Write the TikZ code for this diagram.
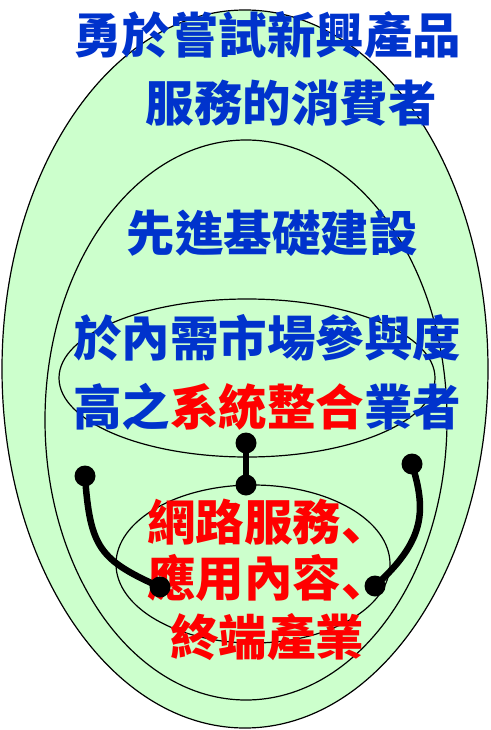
\documentclass[tikz,border=0pt]{standalone}
\usepackage{fontspec}
\newfontfamily\cjk{Noto Sans CJK TC}
\newfontfamily\cjksc{Noto Sans CJK SC}
\newcommand{\dunhao}{{\cjksc\bfseries 、}}
\definecolor{bgreen}{HTML}{CCFFCC}
\definecolor{tblue}{HTML}{0033CC}
\definecolor{tred}{HTML}{FF0000}
\tikzset{
  ring/.style={draw=black, line width=1.2pt, fill=bgreen},
  lbl/.style={inner sep=0pt, font=\cjk\bfseries\fontsize{48.5}{52}\selectfont},
  dot/.style={circle, fill=black, inner sep=0pt, minimum size=21pt},
  link/.style={line width=6.5pt, black},
}
\begin{document}
\begin{tikzpicture}[x=1pt,y=-1pt]
\useasboundingbox (0,0) rectangle (490,730);
\fill[white] (0,0) rectangle (490,730);
% ellipses
\draw[ring] (245,369) ellipse [x radius=243, y radius=359];
\draw[ring] (246,420) ellipse [x radius=201, y radius=280];
\draw[ring] (247,378) ellipse [x radius=188, y radius=79];
\draw[ring] (253,564) ellipse [x radius=137, y radius=79];
% labels
\node[lbl, text=tblue] (t1) at (267,35) {勇於嘗試新興產品};
\node[lbl, text=tblue] (t2) at (291,103) {服務的消費者};
\node[lbl, text=tblue] (t3) at (272,233) {先進基礎建設};
\node[lbl, text=tblue] (t4) at (267,338) {於內需市場參與度};
\node[lbl, text=tblue] (t5) at (267,407) {高之\textcolor{tred}{系統整合}業者};
\node[lbl, text=tred, anchor=west] (r1) at (147,522) {網路服務\dunhao};
\node[lbl, text=tred, anchor=west] (r2) at (147,578) {應用內容\dunhao};
\node[lbl, text=tred, anchor=west] (r3) at (170,637) {終端產業};
% dots
\node[dot] (d1) at (246,443) {};
\node[dot] (d2) at (246,485) {};
\node[dot] (d3) at (85,476) {};
\node[dot] (d4) at (160,587) {};
\node[dot] (d5) at (412,464) {};
\node[dot] (d6) at (375,586) {};
% connectors
\draw[link] (d1.center) -- (d2.center);
\draw[link] (d3.center) .. controls (90,548) and (100,560) .. (d4.center);
\draw[link] (d5.center) .. controls (426,510) and (426,540) .. (d6.center);
\end{tikzpicture}
\end{document}
